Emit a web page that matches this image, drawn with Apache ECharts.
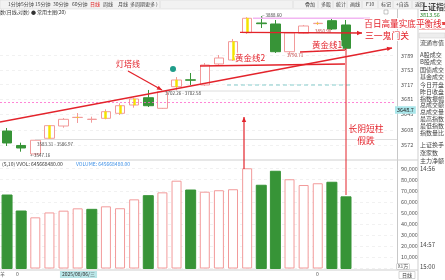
<!DOCTYPE html>
<html><head><meta charset="utf-8">
<script src="https://cdn.jsdelivr.net/npm/echarts@6/dist/echarts.min.js"></script>
<style>html,body{margin:0;padding:0;background:#fff}#c{width:445px;height:280px}</style>
</head><body><div id="c"></div>
<script>
// ---------- data ----------
const categories = ['2025/07/31','2025/08/01','2025/08/04','2025/08/05','2025/08/06','2025/08/07','2025/08/08','2025/08/11','2025/08/12','2025/08/13','2025/08/14','2025/08/15','2025/08/18','2025/08/19','2025/08/20','2025/08/21','2025/08/22','2025/08/25','2025/08/26','2025/08/27','2025/08/28','2025/08/29','2025/09/01','2025/09/02','2025/09/03','2025/09/04','2025/09/05','2025/09/08'];
// open, close, low, high
const openP  = [3605.1,3570.9,3551.0,3587.9,3617.0,3637.3,3632.7,3635.4,3647.4,3667.4,3685.1,3659.4,3711.9,3728.8,3716.1,3767.9,3777.8,3846.4,3871.1,3868.5,3798.5,3844.9,3869.5,3876.9,3866.0];
const closeP = [3576.8,3565.0,3583.3,3617.8,3633.0,3637.8,3633.3,3651.3,3665.7,3682.0,3665.7,3699.7,3728.3,3727.8,3765.4,3782.8,3823.7,3883.1,3869.3,3798.5,3845.7,3863.4,3870.3,3855.8,3807.1];
const lowP   = [3569.7,3556.3,3547.16,3586.97,3613.0,3624.2,3624.9,3633.0,3643.3,3660.9,3662.6,3657.8,3702.58,3716.1,3713.6,3762.9,3775.3,3843.1,3858.3,3795.3,3790.71,3843.1,3866.0,3853.3,3802.8];
const highP  = [3612.3,3577.5,3583.31,3619.5,3636.0,3648.1,3639.3,3657.0,3671.5,3685.1,3703.9,3702.26,3735.7,3745.6,3770.3,3790.3,3830.5,3886.0,3888.6,3878.7,3847.0,3866.0,3874.4,3883.1,3878.7];
const yellowMarked = [3,5,7,8,9,12,16,17,22];
// volume (x1万)
const volume = [66200,51800,46100,50500,52100,54200,53300,56000,54300,62300,65600,68600,79100,70700,69200,70500,71400,90300,75000,87600,80400,75200,76800,77700,64566.848];
const volumeUp = [0,0,1,1,1,1,0,1,1,1,0,1,1,0,1,1,1,1,0,0,1,1,1,0,0];
const priceTicks = [3572,3608,3645,3681,3717,3753,3789];
const volumeTicks = [0,10000,20000,30000,40000,50000,60000,70000,80000,90000];
const panelRows = ['流通市值','A股成交','B股成交','国债成交','基金成交','今日开盘','昨日收盘','指数振幅','总成交额','总成交量','最高指数','最低指数','指数量比'];

// ---------- build ----------
const RED = '#f29a9a', GREEN = '#379437', ANN = '#e3232b';
const FONT = '"Noto Sans CJK SC", "Noto Sans", sans-serif';
const candleData = openP.map((o,i)=>[o,closeP[i],lowP[i],highP[i]]);
const yellowData = openP.map((o,i)=> yellowMarked.includes(i) ? [o,closeP[i],Math.min(o,closeP[i]),Math.max(o,closeP[i])] : '-');
const volData = volume.map((v,i)=>({value:v,itemStyle: volumeUp[i] ? {color:'#fff',borderColor:RED,borderWidth:1} : {color:GREEN,borderColor:GREEN}}));

const G = [];
function txt(x,y,s,o){G.push({type:'text',z:100,style:Object.assign({x:x,y:y,text:s,fill:'#333',fontSize:5,fontFamily:FONT,verticalAlign:'middle'},o||{})});}
function line(x1,y1,x2,y2,o){G.push({type:'line',z:90,shape:{x1,y1,x2,y2},style:Object.assign({stroke:ANN,lineWidth:1.3},o||{})});}
function rect(x,y,w,h,o){G.push({type:'rect',z:80,shape:{x,y,width:w,height:h},style:Object.assign({fill:'#fff'},o||{})});}
function arrow(x1,y1,x2,y2,o){line(x1,y1,x2,y2,o);const a=Math.atan2(y2-y1,x2-x1),L=5,W=2.2;
  const bx=x2-L*Math.cos(a),by=y2-L*Math.sin(a);
  G.push({type:'polygon',z:91,shape:{points:[[x2,y2],[bx+W*Math.sin(a),by-W*Math.cos(a)],[bx-W*Math.sin(a),by+W*Math.cos(a)]]},style:{fill:ANN}});}

// toolbar
rect(0,0,445,9,{fill:'#f2f2f2',stroke:'#d0d0d0',lineWidth:0.5});
[['1分钟',8],['5分钟',21],['15分钟',35],['30分钟',53],['60分钟',72],['日线',90],['周线',103],['月线',118],['多周期',130],['更多 )',145],['叠加',305],['多股',321],['统计',336],['画线',350],['F10',366],['标记',381],['+自选',396],['返回',415]]
 .forEach(t=>txt(t[1],4.5,t[0],{fill:t[0]==='日线'?'#e02020':'#444'}));
[160,293,318,333,347,362,378,393,412].forEach(x=>line(x,1,x,8,{stroke:'#c8c8c8',lineWidth:0.5}));
txt(0,12.5,'数(日线,对数) ● 常用主图(20)',{fill:'#333'});
rect(384,10,4,4,{fill:'none',stroke:'#888',lineWidth:0.5});

// frame lines
line(0,160,418,160,{stroke:'#cfcfcf',lineWidth:1});
line(0,270,418,270,{stroke:'#cfcfcf',lineWidth:1});
line(418,9,418,280,{stroke:'#cfcfcf',lineWidth:1});
txt(2,164.5,'(5,10) VVOL: 645668480.00',{fill:'#333'});
txt(76,164.5,'VOLUME: 645668480.00',{fill:'#3a8ee6'});

// bottom strip
txt(0,274.5,'羊',{fill:'#555'});
txt(16,274.5,'0',{fill:'#555'});
txt(78.5,274.5,'2025/08/06/三',{fill:'#333',align:'center',backgroundColor:'#b9e6e8',padding:[1,2]});
txt(316,274.5,'0',{fill:'#555'});
txt(407,275,'日线',{fill:'#333',align:'center',borderColor:'#aaa',borderWidth:0.5,padding:[1,3]});
txt(403,266.5,'X1万',{fill:'#555',align:'center',borderColor:'#bbb',borderWidth:0.5,padding:[0,1],backgroundColor:'#fff'});

// price / gap annotations
txt(395,110,'3648.7',{fill:'#222',backgroundColor:'#a9e6ea',padding:[1,2],fontSize:5.5});
line(35,139.5,397,139.5,{stroke:'#d6d6d6',lineWidth:0.8});
txt(37,144.5,'3583.31 - 3586.97',{fill:'#444',fontSize:4.5});
txt(30,155.5,'+-3547.16',{fill:'#444',fontSize:4.5});
line(160,91,300,91,{stroke:'#d6d6d6',lineWidth:0.8});
txt(165,93.5,'3702.26 - 3702.58',{fill:'#444',fontSize:4.5});
txt(260,15,'┌ 3888.60',{fill:'#444',fontSize:4.5});
txt(287,55,'3790.71',{fill:'#c04040',fontSize:4.5});
txt(315,31.5,'3850.90',{fill:'#c04040',fontSize:4.5});
line(253,18.3,370,18.3,{stroke:'#f2b6f2',lineWidth:1.5});
line(227,85,353,85,{stroke:'#86cccc',lineWidth:1,lineDash:[4,3]});
G.push({type:'circle',z:95,shape:{cx:173,cy:69,r:3},style:{fill:'#1f9d8a'}});

// annotation lines
arrow(0,122,392,48);
line(200,66,345,64);
arrow(128,71,162,90);
arrow(240,32.3,362,33);
line(300,52,345,50);
line(346,48,346,195,{lineWidth:1});
arrow(244,169,244,117,{lineWidth:1.2});
const lab = {fill:ANN,fontSize:8.8,stroke:'#fff',lineWidth:2,align:'center'};
txt(128,64,'灯塔线',Object.assign({},lab,{fontSize:8}));
txt(250,58,'黄金线2',Object.assign({},lab,{fontSize:8.5}));
txt(327,44.5,'黄金线1',Object.assign({},lab,{fontSize:8.5}));
txt(403,23.5,'百日高量实底平衡线',Object.assign({},lab,{fontSize:8.6}));
txt(387,36,'三一鬼门关',lab);
txt(366,129,'长阴短柱',lab);
txt(366,141,'假跌',lab);

// right panel
txt(420,7,'上证指数',{fill:'#444',fontSize:8,fontWeight:'bold'});
txt(420,15,'3813.56',{fill:'#2a8a2a',fontSize:5.5});
rect(419,22,26,3,{fill:'#e64545'});
line(419,29,445,29,{stroke:'#e64545',lineWidth:0.8});
rect(419,33,26,5,{fill:'#eee',stroke:'#ccc',lineWidth:0.5});
const rowY=[43,55,62,69.5,76.5,85,91.7,98.3,105,111.7,119,126,133];
panelRows.forEach((s,i)=>txt(420,rowY[i],s,{fill:'#444',fontSize:6}));
txt(420,145,'上证换手',{fill:'#444',fontSize:6});
txt(420,152.3,'涨家数',{fill:'#444',fontSize:6});
txt(420,160.5,'主力净额 亿',{fill:'#444',fontSize:6});
txt(420,169,'14:56',{fill:'#444',fontSize:6});
txt(420,245,'14:57',{fill:'#444',fontSize:6});
txt(420,266.7,'15:00',{fill:'#444',fontSize:6});

const chart = echarts.init(document.getElementById('c'),null,{renderer:'canvas'});
const GL = -5.46, GW = 400.9;
chart.setOption({
  animation:false,
  backgroundColor:'#fff',
  textStyle:{fontFamily:FONT},
  grid:[{left:GL,width:GW,top:9,height:151},{left:GL,width:GW,top:160,height:108.5}],
  xAxis:[
    {type:'category',gridIndex:0,data:categories,boundaryGap:true,axisLine:{show:false},axisTick:{show:false},axisLabel:{show:false},splitLine:{show:false}},
    {type:'category',gridIndex:1,data:categories,boundaryGap:true,axisLine:{show:false},axisTick:{show:false},axisLabel:{show:false},splitLine:{show:false}}
  ],
  yAxis:[
    {type:'log',logBase:10,gridIndex:0,min:3536.9,max:3906.9,position:'right',offset:1.6,
     axisLine:{show:true,lineStyle:{color:'#c8c8c8'}},
     axisTick:{show:false,customValues:priceTicks},
     axisLabel:{customValues:priceTicks,formatter:v=>String(Math.round(v)),fontSize:5.5,color:'#555',margin:4},
     splitLine:{show:true,lineStyle:{color:'#e8e8e8',type:[3,3],width:0.6}}},
    {type:'value',gridIndex:1,min:0,max:97750,position:'right',offset:1.6,
     axisLine:{show:true,lineStyle:{color:'#c8c8c8'}},
     axisTick:{show:false,customValues:volumeTicks},
     axisLabel:{customValues:volumeTicks.slice(1),fontSize:5.5,color:'#555',margin:4},
     splitLine:{show:true,lineStyle:{color:'#e8e8e8',type:[3,3],width:0.6}}}
  ],
  series:[
    {type:'candlestick',xAxisIndex:0,yAxisIndex:0,data:candleData,barWidth:10,
     itemStyle:{color:'#fff',color0:GREEN,borderColor:RED,borderColor0:GREEN,borderWidth:1},
     markLine:{silent:true,symbol:['none','none'],label:{show:false},lineStyle:{color:'#ff66cc',type:[2,2],width:0.8},data:[{yAxis:3674}]}},
    {type:'candlestick',xAxisIndex:0,yAxisIndex:0,data:yellowData,barWidth:2.5,
     itemStyle:{color:'#f4e400',color0:'#f4e400',borderColor:'#f4e400',borderColor0:'#f4e400',borderWidth:0.5}},
    {type:'bar',xAxisIndex:1,yAxisIndex:1,data:volData,barWidth:10}
  ],
  graphic:{elements:G}
});
</script></body></html>
